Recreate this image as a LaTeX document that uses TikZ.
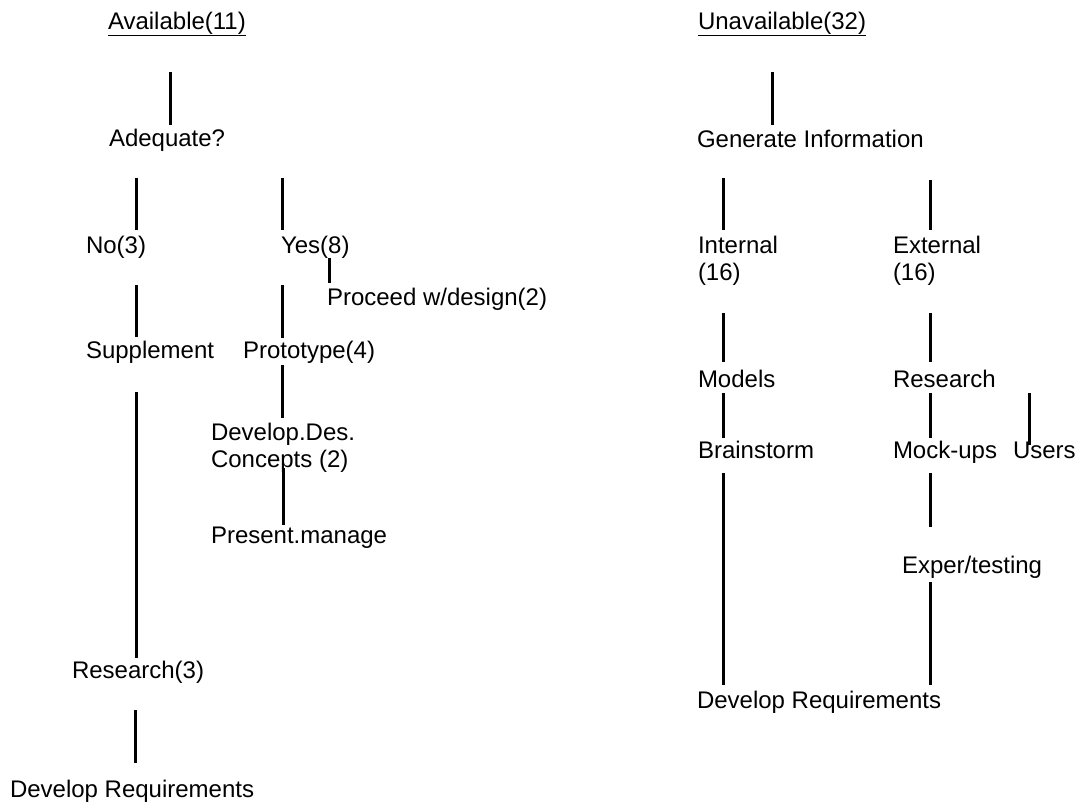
\documentclass[tikz,border=0pt]{standalone}
\usepackage{fontspec}
\setmainfont{Liberation Sans}
\begin{document}
\begin{tikzpicture}[x=1pt,y=-1pt,
  lbl/.style={anchor=base west,inner sep=0pt,outer sep=0pt,align=left,
              font=\fontsize{24}{27}\selectfont},
  link/.style={draw=black,line width=3pt}]
\useasboundingbox (0,0) rectangle (1088,809);

% columns of the vertical connectors
\coordinate (cA) at (170,0);
\coordinate (cB) at (136,0);
\coordinate (cC) at (282,0);
\coordinate (cD) at (329,0);
\coordinate (cE) at (283,0);
\coordinate (cF) at (135,0);
\coordinate (cG) at (772,0);
\coordinate (cH) at (723,0);
\coordinate (cI) at (930,0);

% ---------- left tree ----------
% (two-line labels are placed by the baseline of their last line)
\node[lbl] (avail)   at (108,29)  {\underline{Available(11)}};
\node[lbl] (adeq)    at (109,146) {Adequate?};
\node[lbl] (no)      at (86,253)  {No(3)};
\node[lbl] (yes)     at (281,253) {Yes(8)};
\node[lbl] (proc)    at (327,305) {Proceed w/design(2)};
\node[lbl] (supp)    at (86,358)  {Supplement};
\node[lbl] (proto)   at (243,358) {Prototype(4)};
\node[lbl] (devdes)  at (211,467) {Develop.Des.\\Concepts (2)};
\node[lbl] (present) at (211,543) {Present.manage};
\node[lbl] (res3)    at (72,678)  {Research(3)};
\node[lbl] (reqL)    at (10,797)  {Develop Requirements};

\draw[link] ([yshift=-43pt]avail.base -| cA) -- ([yshift=21pt]adeq.base -| cA);
\draw[link] ([yshift=-32pt]adeq.base -| cB) -- ([yshift=23pt]no.base -| cB);
\draw[link] ([yshift=-32pt]adeq.base -| cC) -- ([yshift=23pt]yes.base -| cC);
\draw[link] ([yshift=-5pt]yes.base -| cD) -- ([yshift=22pt]proc.base -| cD);
\draw[link] ([yshift=-32pt]no.base -| cB) -- ([yshift=21pt]supp.base -| cB);
\draw[link] ([yshift=-32pt]yes.base -| cC) -- ([yshift=20pt]proto.base -| cC);
\draw[link] ([yshift=-7pt]proto.base -| cC) -- ([yshift=49pt]devdes.base -| cC);
\draw[link] ([yshift=-1pt]devdes.base -| cE) -- ([yshift=18pt]present.base -| cE);
\draw[link] ([yshift=-34pt]supp.base -| cB) -- ([yshift=20pt]res3.base -| cB);
\draw[link] ([yshift=-32pt]res3.base -| cF) -- ([yshift=34pt]reqL.base -| cF);

% ---------- right tree ----------
\node[lbl] (unav)   at (698,29)  {\underline{Unavailable(32)}};
\node[lbl] (gen)    at (697,147) {Generate Information};
\node[lbl] (int)    at (698,280) {Internal\\(16)};
\node[lbl] (ext)    at (893,280) {External\\(16)};
\node[lbl] (models) at (698,387) {Models};
\node[lbl] (resR)   at (893,387) {Research};
\node[lbl] (brain)  at (698,458) {Brainstorm};
\node[lbl] (mock)   at (893,458) {Mock-ups};
\node[lbl] (users)  at (1013,458) {Users};
\node[lbl] (exper)  at (902,573) {Exper/testing};
\node[lbl] (reqR)   at (697,708) {Develop Requirements};
\coordinate (usersTop) at (1029,393);

\draw[link] ([yshift=-43pt]unav.base -| cG) -- ([yshift=22pt]gen.base -| cG);
\draw[link] ([yshift=-31pt]gen.base -| cH) -- ([yshift=50pt]int.base -| cH);
\draw[link] ([yshift=-33pt]gen.base -| cI) -- ([yshift=50pt]ext.base -| cI);
\draw[link] ([yshift=-33pt]int.base -| cH) -- ([yshift=25pt]models.base -| cH);
\draw[link] ([yshift=-33pt]ext.base -| cI) -- ([yshift=25pt]resR.base -| cI);
\draw[link] ([yshift=-6pt]models.base -| cH) -- ([yshift=20pt]brain.base -| cH);
\draw[link] ([yshift=-6pt]resR.base -| cI) -- ([yshift=20pt]mock.base -| cI);
\draw[link] (usersTop) -- ([yshift=13pt]users.base -| usersTop);
\draw[link] ([yshift=-15pt]brain.base -| cH) -- ([yshift=23pt]reqR.base -| cH);
\draw[link] ([yshift=-15pt]mock.base -| cI) -- ([yshift=46pt]exper.base -| cI);
\draw[link] ([yshift=-9pt]exper.base -| cI) -- ([yshift=23pt]reqR.base -| cI);
\end{tikzpicture}
\end{document}
